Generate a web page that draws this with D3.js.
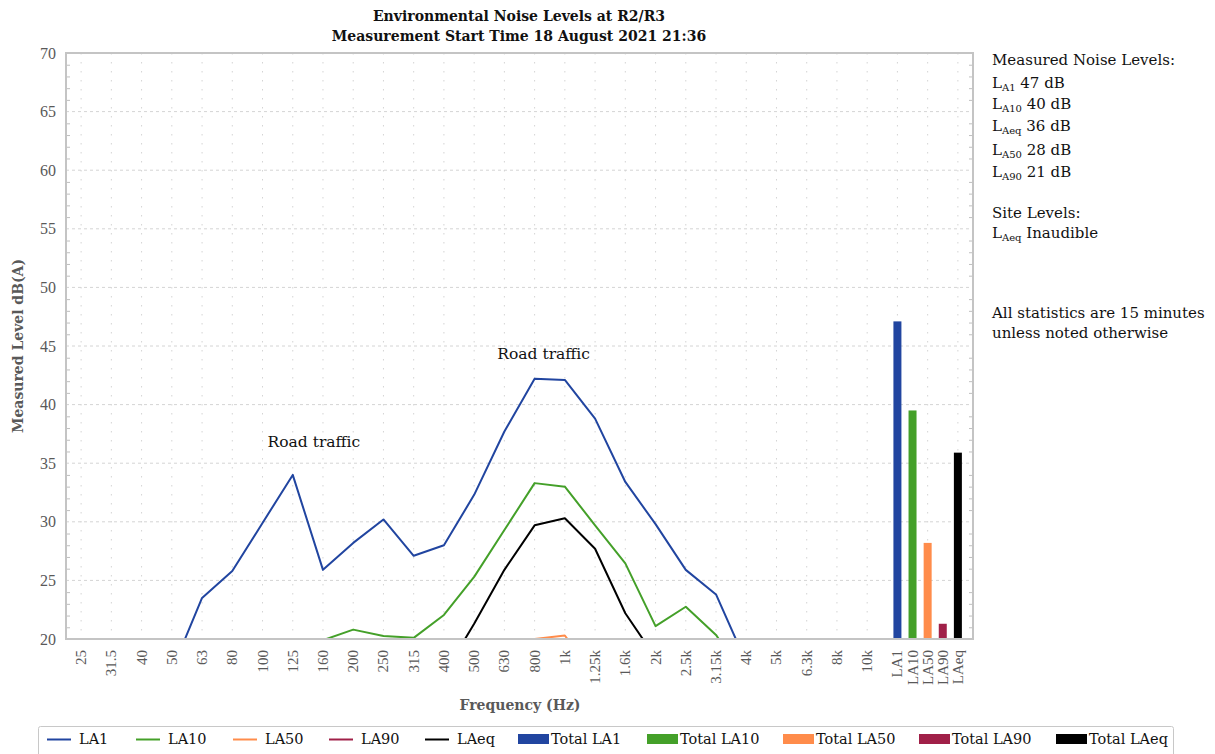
<!DOCTYPE html>
<html>
<head>
<meta charset="utf-8">
<script src="https://cdn.jsdelivr.net/npm/d3@7"></script>
<style>
  body { margin: 0; background: #fff; }
  svg { display: block; }
  text { font-family: "DejaVu Serif", serif; }
</style>
</head>
<body>
<div id="chart"></div>
<script>
// frequency bands and the summary columns
var freqLabels = ["25","31.5","40","50","63","80","100","125","160","200","250","315","400","500",
                  "630","800","1k","1.25k","1.6k","2k","2.5k","3.15k","4k","5k","6.3k","8k","10k"];
var totalLabels = ["LA1","LA10","LA50","LA90","LAeq"];
var totalValues = [47.1, 39.5, 28.2, 21.3, 35.9];

// third-octave spectra, dB(A) (anything under 20 is off the chart)
var la1  = [12.5, 13.8, 15.2, 17.3, 23.5, 25.8, 29.9, 34.0, 25.9, 28.2, 30.2, 27.1, 28.0, 32.3,
            37.7, 42.2, 42.1, 38.8, 33.4, 29.8, 25.9, 23.8, 18.0, 15.5, 13.2, 11.8, 10.5];
var la10 = [8.5, 9.6, 10.8, 11.9, 13.5, 15.2, 16.8, 18.1, 19.9, 20.8, 20.25, 20.1, 22.05, 25.3,
            29.3, 33.3, 33.0, 29.7, 26.45, 21.1, 22.75, 20.35, 16.5, 14.2, 12.0, 10.3, 9.1];
var la50 = [5.5, 6.4, 7.3, 8.2, 9.4, 10.6, 11.8, 12.9, 13.6, 14.5, 14.8, 15.0, 16.2, 17.3,
            18.6, 20.0, 20.3, 16.8, 14.6, 12.9, 12.3, 11.5, 10.2, 9.0, 7.8, 6.9, 6.0];
var la90 = [3.5, 4.2, 5.0, 5.8, 6.9, 8.0, 9.1, 10.2, 10.9, 11.6, 12.0, 12.3, 13.1, 13.9,
            14.8, 15.9, 16.1, 14.3, 12.2, 10.6, 9.9, 9.0, 7.9, 6.8, 5.7, 4.9, 4.1];
var laeq = [9.0, 10.1, 11.3, 12.4, 14.6, 16.0, 17.2, 18.5, 16.4, 17.3, 17.9, 16.2, 17.0, 21.3,
            25.9, 29.7, 30.3, 27.7, 22.2, 18.4, 16.9, 15.8, 13.0, 11.1, 9.6, 8.3, 7.2];

var yTicks = [20, 25, 30, 35, 40, 45, 50, 55, 60, 65, 70];

var series = [
  {name: "LA1",  values: la1,  color: "#2145a0"},
  {name: "LA10", values: la10, color: "#44a029"},
  {name: "LA50", values: la50, color: "#ff8c4b"},
  {name: "LA90", values: la90, color: "#a02048"},
  {name: "LAeq", values: laeq, color: "#000000"}
];

var W = 1215, H = 754;
var plot = {left: 66, right: 973, top: 53, bottom: 639};

var svg = d3.select("#chart").append("svg")
  .attr("width", W).attr("height", H);

// x: one slot per band, the totals squeezed in at half-slot spacing
var x = d3.scaleLinear()
  .domain([-0.5, 29.5])
  .range([plot.left, plot.right]);
var y = d3.scaleLinear()
  .domain([20, 70])
  .range([plot.bottom, plot.top]);

function totalPos(j) { return x(freqLabels.length + j * 0.5); }

// grid
svg.append("g").selectAll("line")
  .data(d3.range(0, 30))
  .enter().append("line")
    .attr("x1", function(d) { return x(d); })
    .attr("x2", function(d) { return x(d); })
    .attr("y1", plot.top).attr("y2", plot.bottom)
    .attr("stroke", "#d4d4d4")
    .attr("stroke-dasharray", "1.5,7.5");

svg.append("g").selectAll("line")
  .data(yTicks.slice(1, -1))
  .enter().append("line")
    .attr("x1", plot.left).attr("x2", plot.right)
    .attr("y1", function(d) { return y(d); })
    .attr("y2", function(d) { return y(d); })
    .attr("stroke", "#d4d4d4")
    .attr("stroke-dasharray", "3,3");

// minor ticks on both sides, pointing in
var minor = d3.range(21, 70).filter(function(v) { return v % 5 != 0; });
svg.append("g").call(d3.axisRight(y).tickValues(minor).tickSize(4).tickFormat(""))
  .attr("transform", "translate(" + plot.left + ",0)")
  .call(function(g) { g.select(".domain").remove(); g.selectAll("line").attr("stroke", "#bfbfbf"); });
svg.append("g").call(d3.axisLeft(y).tickValues(minor).tickSize(4).tickFormat(""))
  .attr("transform", "translate(" + plot.right + ",0)")
  .call(function(g) { g.select(".domain").remove(); g.selectAll("line").attr("stroke", "#bfbfbf"); });

// y tick labels
svg.append("g").call(d3.axisLeft(y).tickValues(yTicks).tickSize(0).tickPadding(10))
  .attr("transform", "translate(" + plot.left + ",0)")
  .call(function(g) {
    g.select(".domain").remove();
    g.selectAll("text")
      .attr("fill", "#595959")
      .style("font-family", "'Liberation Serif', serif")
      .style("font-size", "16px");
  });

// x tick labels (rotated)
var xLab = svg.append("g");
xLab.selectAll("text.freq")
  .data(freqLabels)
  .enter().append("text")
    .attr("class", "freq")
    .attr("transform", function(d, i) { return "translate(" + (x(i) + 5) + "," + (plot.bottom + 11) + ") rotate(-90)"; })
    .attr("text-anchor", "end")
    .attr("fill", "#595959")
    .style("font-family", "'Liberation Serif', serif")
    .style("font-size", "15px")
    .text(function(d) { return d; });
xLab.selectAll("text.tot")
  .data(totalLabels)
  .enter().append("text")
    .attr("class", "tot")
    .attr("transform", function(d, j) { return "translate(" + (totalPos(j) + 5) + "," + (plot.bottom + 11) + ") rotate(-90)"; })
    .attr("text-anchor", "end")
    .attr("fill", "#595959")
    .style("font-family", "'Liberation Serif', serif")
    .style("font-size", "15px")
    .text(function(d) { return d; });

// clip for the spectra
svg.append("clipPath").attr("id", "clip")
  .append("rect")
    .attr("x", plot.left).attr("y", plot.top)
    .attr("width", plot.right - plot.left).attr("height", plot.bottom - plot.top);

var line = d3.line()
  .x(function(d, i) { return x(i); })
  .y(function(d) { return y(d); });

svg.append("g").attr("clip-path", "url(#clip)")
  .selectAll("path")
  .data(series)
  .enter().append("path")
    .attr("d", function(s) { return line(s.values); })
    .attr("fill", "none")
    .attr("stroke", function(s) { return s.color; })
    .attr("stroke-width", 2)
    .attr("stroke-linejoin", "round");

// total bars
svg.append("g").selectAll("rect")
  .data(totalValues)
  .enter().append("rect")
    .attr("x", function(d, j) { return totalPos(j) - 4; })
    .attr("width", 8)
    .attr("y", function(d) { return y(d); })
    .attr("height", function(d) { return y(20) - y(d); })
    .attr("fill", function(d, j) { return series[j].color; });

// plot frame
svg.append("rect")
  .attr("x", plot.left).attr("y", plot.top)
  .attr("width", plot.right - plot.left).attr("height", plot.bottom - plot.top)
  .attr("fill", "none")
  .attr("stroke", "#c4c4c4")
  .attr("stroke-width", 2);

// annotations
svg.append("text").attr("x", x(7.7)).attr("y", 447)
  .attr("text-anchor", "middle").attr("fill", "#111")
  .style("font-size", "15.5px").text("Road traffic");
svg.append("text").attr("x", x(15.3)).attr("y", 359)
  .attr("text-anchor", "middle").attr("fill", "#111")
  .style("font-size", "15.5px").text("Road traffic");

// titles
svg.append("text").attr("x", 519).attr("y", 21)
  .attr("text-anchor", "middle").attr("font-weight", "bold").attr("fill", "#111")
  .style("font-size", "14px").text("Environmental Noise Levels at R2/R3");
svg.append("text").attr("x", 519).attr("y", 41)
  .attr("text-anchor", "middle").attr("font-weight", "bold").attr("fill", "#111")
  .style("font-size", "14px").text("Measurement Start Time 18 August 2021 21:36");

svg.append("text").attr("x", 520).attr("y", 710)
  .attr("text-anchor", "middle").attr("font-weight", "bold").attr("fill", "#595959")
  .style("font-size", "14px").text("Frequency (Hz)");

svg.append("text")
  .attr("transform", "translate(23," + ((plot.top + plot.bottom) / 2) + ") rotate(-90)")
  .attr("text-anchor", "middle").attr("font-weight", "bold").attr("fill", "#595959")
  .style("font-size", "14px").text("Measured Level dB(A)");

// side notes
var notes = [
  {y: 65,  main: "Measured Noise Levels:"},
  {y: 88,  sub: "A1",  main: " 47 dB"},
  {y: 109, sub: "A10", main: " 40 dB"},
  {y: 131, sub: "Aeq", main: " 36 dB"},
  {y: 155, sub: "A50", main: " 28 dB"},
  {y: 177, sub: "A90", main: " 21 dB"},
  {y: 218, main: "Site Levels:"},
  {y: 238, sub: "Aeq", main: " Inaudible"},
  {y: 318, main: "All statistics are 15 minutes"},
  {y: 338, main: "unless noted otherwise"}
];
notes.forEach(function(n) {
  var t = svg.append("text").attr("x", 992).attr("y", n.y)
    .attr("fill", "#111").style("font-size", "15px");
  if (n.sub) {
    t.append("tspan").text("L");
    t.append("tspan").attr("dy", 3).style("font-size", "10px").text(n.sub);
    t.append("tspan").attr("dy", -3).text(n.main);
  } else {
    t.text(n.main);
  }
});

// legend
var legendX = [47, 136, 233, 329, 425, 518, 647, 783, 919, 1056];
var legend = svg.append("g");
legend.append("rect")
  .attr("x", 38.5).attr("y", 726.5).attr("width", 1135).attr("height", 40).attr("rx", 2)
  .attr("fill", "#fff").attr("stroke", "#c8c8c8");

var items = series.map(function(s) { return {label: s.name, color: s.color, bar: false}; })
  .concat(totalLabels.map(function(l, j) { return {label: "Total " + l, color: series[j].color, bar: true}; }));

items.forEach(function(it, i) {
  var g = legend.append("g").attr("transform", "translate(" + legendX[i] + ",0)");
  if (it.bar) {
    g.append("rect").attr("x", 0).attr("y", 734).attr("width", 31).attr("height", 10).attr("fill", it.color);
    g.append("text").attr("x", 33).attr("y", 744).attr("fill", "#111").style("font-size", "14.5px").text(it.label);
  } else {
    g.append("line").attr("x1", 0).attr("x2", 24).attr("y1", 739.5).attr("y2", 739.5)
      .attr("stroke", it.color).attr("stroke-width", 2);
    g.append("text").attr("x", 32).attr("y", 744).attr("fill", "#111").style("font-size", "14.5px").text(it.label);
  }
});
</script>
</body>
</html>
